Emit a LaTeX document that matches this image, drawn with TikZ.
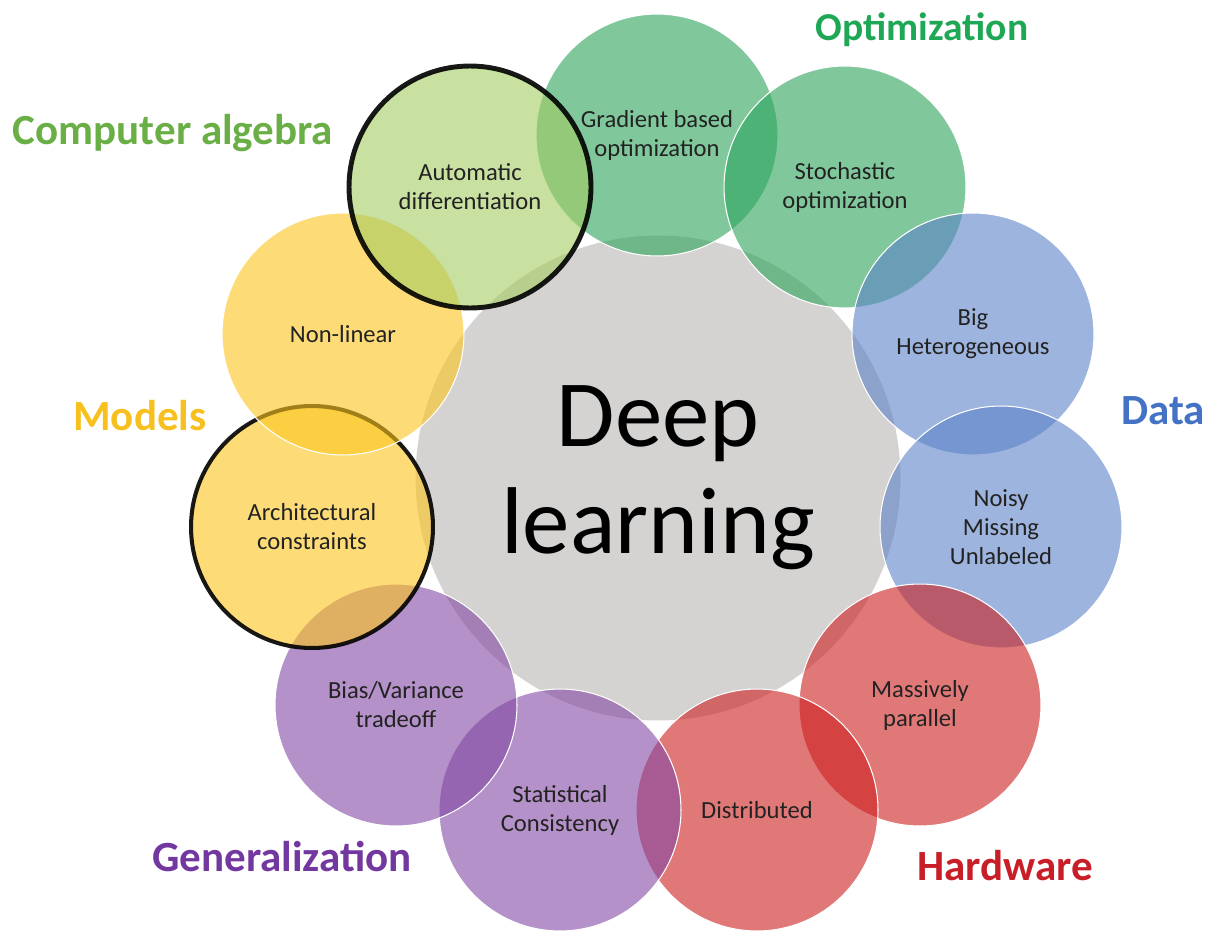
\documentclass[tikz,border=0pt]{standalone}
\usepackage{fontspec}
\setmainfont{Carlito}
\usepackage{tikz}

\definecolor{optgreen}{RGB}{43,163,90}
\definecolor{alggreen}{RGB}{163,203,97}
\definecolor{modyellow}{RGB}{252,197,30}
\definecolor{datablue}{RGB}{92,130,200}
\definecolor{hwred}{RGB}{205,30,30}
\definecolor{genpurple}{RGB}{130,72,163}
\definecolor{coregray}{RGB}{213,211,209}
\definecolor{inktext}{RGB}{34,34,34}
\definecolor{optink}{RGB}{30,168,85}
\definecolor{algink}{RGB}{106,175,69}
\definecolor{modink}{RGB}{248,192,30}
\definecolor{dataink}{RGB}{68,114,196}
\definecolor{hwink}{RGB}{200,30,40}
\definecolor{genink}{RGB}{115,55,160}

\begin{document}
\begin{tikzpicture}[x=0.02cm,y=-0.02cm]
            \tikzstyle{bubble}=[circle,minimum size=4.84cm,inner sep=0pt,align=center,draw=white,line width=0.6pt,fill opacity=0.6,text opacity=1,text=inktext,font=\fontsize{14}{16.5}\selectfont]
            \tikzstyle{picked}=[draw=black,draw opacity=0.9]
            \tikzstyle{heading}=[font=\fontsize{24.5}{28}\selectfont\bfseries]
            \useasboundingbox (0,0) rectangle (1217,933);
            \node[circle,minimum size=9.7cm,inner sep=0pt,fill=coregray,align=center,font=\fontsize{54}{61}\selectfont] (core) at (658,478) {Deep\\learning};
            \node[bubble,fill=optgreen] (gradopt) at (657,135) {Gradient based\\optimization};
            \node[bubble,fill=optgreen] (stochopt) at (845,187) {Stochastic\\optimization};
            \node[bubble,fill=datablue] (bighet) at (973,334) {Big\\Heterogeneous};
            \node[bubble,fill=datablue] (noisy) at (1001,527) {Noisy\\Missing\\Unlabeled};
            \node[bubble,fill=hwred] (massive) at (920,705) {Massively\\parallel};
            \node[bubble,fill=hwred] (distrib) at (757,810) {Distributed};
            \node[bubble,fill=genpurple] (statcons) at (560,810) {Statistical\\Consistency};
            \node[bubble,fill=genpurple] (biasvar) at (396,705) {Bias/Variance\\tradeoff};
            \node[bubble,fill=modyellow,picked,line width=2.3pt] (archcons) at (312,527) {Architectural\\constraints};
            \node[bubble,fill=modyellow] (nonlin) at (343,334) {Non-linear};
            \node[bubble,fill=alggreen,picked,line width=2.8pt] (autodiff) at (470,187) {Automatic\\differentiation};
            \node[heading,text=optink,font=\fontsize{22.5}{27}\selectfont\bfseries] (optlabel) at (922,30) {Optimization};
            \node[heading,text=algink] (alglabel) at (173,133) {Computer algebra};
            \node[heading,text=modink] (modlabel) at (140,416) {Models};
            \node[heading,text=dataink] (datalabel) at (1163,411) {Data};
            \node[heading,text=hwink] (hwlabel) at (1005,866) {Hardware};
            \node[heading,text=genink] (genlabel) at (282,857) {Generalization};
        \end{tikzpicture}
\end{document}
